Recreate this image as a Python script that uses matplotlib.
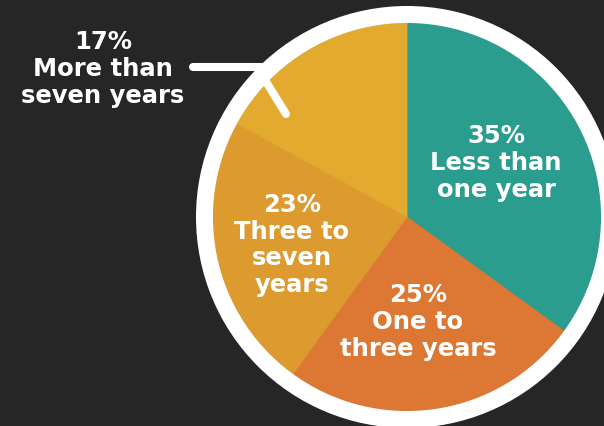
import matplotlib
matplotlib.use("Agg")
import matplotlib.pyplot as plt
from matplotlib.patches import Circle

# Tenure shares
categories = ["Less than\none year", "One to\nthree years", "Three to\nseven\nyears", "More than\nseven years"]
shares = [35, 25, 23, 17]
colors = ["#2a9d8f", "#dc7833", "#dc9a2f", "#e2aa2e"]

# Label anchor points (pixel coordinates, y up)
label_xy = [(496, 264), (418, 105), (292, 182), (103, 358)]

W, H = 604, 427
fig = plt.figure(figsize=(W / 100, H / 100), dpi=100)
fig.patch.set_facecolor("#262626")
ax = fig.add_axes([0, 0, 1, 1])
ax.set_facecolor("#262626")

cx, cy, r = 407, 209, 194
wedges, _ = ax.pie(shares, colors=colors, startangle=90, counterclock=False,
                   center=(cx, cy), radius=r, frame=True)
for w in wedges:
    w.set_edgecolor(w.get_facecolor())
    w.set_linewidth(0.6)
ax.set_xlim(0, W)
ax.set_ylim(0, H)
ax.set_aspect("equal")
ax.axis("off")

# White rim around the pie
ring_w = 17
ax.add_patch(Circle((cx, cy), r + ring_w / 2, fill=False, edgecolor="white",
                    linewidth=ring_w * 0.72, zorder=3))

# Leader line for the smallest slice
ax.plot([193, 262], [359, 359], color="white", linewidth=5.8,
        solid_capstyle="round", zorder=4)
ax.plot([265, 286], [346, 312], color="white", linewidth=5.8,
        solid_capstyle="round", zorder=4)

for (x, y), cat, v in zip(label_xy, categories, shares):
    ax.text(x, y, f"{v}%\n{cat}", color="white", fontsize=17.5,
            fontweight="bold", family=["DejaVu Sans"],
            ha="center", va="center", linespacing=1.15, zorder=5,
            multialignment="center")

fig.savefig("out.png", dpi=100, facecolor=fig.get_facecolor())
